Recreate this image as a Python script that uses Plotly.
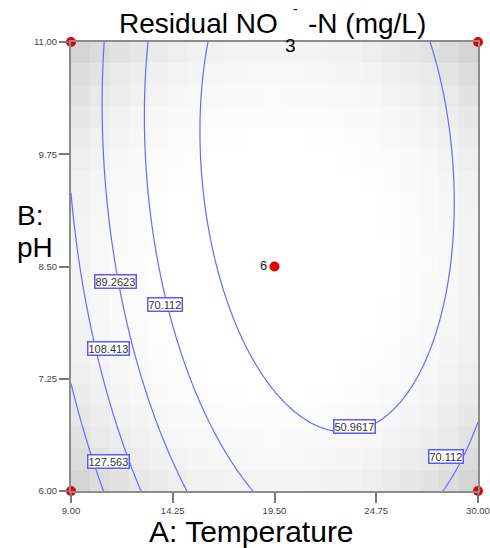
import numpy as np
import plotly.graph_objects as go

# ---- data ----
# Quadratic response-surface model in coded units: A=(T-19.5)/10.5, B=(pH-8.5)/2.5
coef_names = ["b0", "A", "B", "AB", "A2", "B2"]
coef_values = [39.46, -27.2, -13.38, 6.66, 46.9, 13.15]

temp_range = [9.0, 30.0]
ph_range = [6.0, 11.0]
x_ticks = [9.00, 14.25, 19.50, 24.75, 30.00]
y_ticks = [6.00, 7.25, 8.50, 9.75, 11.00]
contour_levels = [50.9617, 70.112, 89.2623, 108.413, 127.563]

design_T = [9.0, 30.0, 9.0, 30.0, 19.5]
design_pH = [6.0, 6.0, 11.0, 11.0, 8.5]
design_label = ["", "", "", "", "6"]

label_text = ["89.2623", "70.112", "108.413", "127.563", "50.9617", "70.112"]
label_T = [11.32, 13.85, 10.91, 10.91, 23.65, 28.35]
label_pH = [8.33, 8.08, 7.59, 6.33, 6.72, 6.38]

# ---- model evaluation ----
b0, bA, bB, bAB, bA2, bB2 = coef_values
def model(T, pH):
    A = (T - 19.5) / 10.5
    B = (pH - 8.5) / 2.5
    return b0 + bA*A + bB*B + bAB*A*B + bA2*A*A + bB2*B*B

xs = np.linspace(temp_range[0], temp_range[1], 161)
ys = np.linspace(ph_range[0], ph_range[1], 161)
XX, YY = np.meshgrid(xs, ys)
ZZ = model(XX, YY)

# blocky gray background shading (coarse cells)
nc = 21
cx = np.linspace(temp_range[0], temp_range[1], nc + 1)
cy = np.linspace(ph_range[0], ph_range[1], nc + 1)
ccx = (cx[:-1] + cx[1:]) / 2
ccy = (cy[:-1] + cy[1:]) / 2
CA, CB = np.meshgrid((ccx - 19.5) / 10.5, (ccy - 8.5) / 2.5)
shade = (CA**2 + CB**2) ** 2 / 4.0

fig = go.Figure()
fig.add_trace(go.Heatmap(
    x=ccx, y=ccy, z=shade, zmin=0, zmax=1, zsmooth=False,
    colorscale=[[0, "rgb(255,255,255)"], [1, "rgb(203,203,203)"]],
    showscale=False, hoverinfo="skip"))
fig.add_trace(go.Contour(
    x=xs, y=ys, z=ZZ,
    contours=dict(start=contour_levels[0], end=contour_levels[-1],
                  size=(contour_levels[-1] - contour_levels[0]) / (len(contour_levels) - 1),
                  coloring="none"),
    line=dict(color="rgb(105,105,255)", width=1.2),
    showscale=False, hoverinfo="skip"))
fig.add_trace(go.Scatter(
    x=design_T, y=design_pH, mode="markers+text",
    text=design_label, textposition="middle left",
    textfont=dict(family="Liberation Sans, Arial", size=13, color="#222"),
    marker=dict(color="rgb(230,0,0)", size=10),
    cliponaxis=False, hoverinfo="skip"))

for t, xv, yv in zip(label_text, label_T, label_pH):
    fig.add_annotation(x=xv, y=yv, text=t, showarrow=False,
                       font=dict(family="Liberation Sans Narrow, Liberation Sans, Arial", size=11, color="#333"),
                       bgcolor="white", bordercolor="rgb(90,90,255)", borderwidth=1.5, borderpad=0)

# title pieces
tfont = dict(family="Liberation Sans, Arial", size=28, color="black")
fig.add_annotation(xref="paper", yref="paper", x=(280-71)/407, y=(491-35)/449, xanchor="right", yanchor="bottom",
                   text="Residual NO", showarrow=False, font=tfont, yshift=-6)
fig.add_annotation(xref="paper", yref="paper", x=(283-71)/407, y=(491-45)/449, xanchor="left", yanchor="middle",
                   text="3", showarrow=False, font=dict(family="Liberation Sans, Arial", size=19, color="black"))
fig.add_annotation(xref="paper", yref="paper", x=(292-71)/407, y=491/449, xanchor="left", yanchor="top",
                   text="-", showarrow=False, font=dict(family="Liberation Sans, Arial", size=14, color="black"),
                   borderpad=0)
fig.add_annotation(xref="paper", yref="paper", x=(306-71)/407, y=(491-35)/449, xanchor="left", yanchor="bottom",
                   text="-N (mg/L)", showarrow=False, font=tfont, yshift=-6)
# axis titles
fig.add_annotation(xref="paper", yref="paper", x=(251-71)/407, y=(491-531)/449, xanchor="center", yanchor="middle",
                   text="A: Temperature", showarrow=False, font=dict(family="Liberation Sans, Arial", size=30, color="black"))
fig.add_annotation(xref="paper", yref="paper", x=(15-71)/407, y=(491-215)/449, xanchor="left", yanchor="middle",
                   text="B:", showarrow=False, font=tfont)
fig.add_annotation(xref="paper", yref="paper", x=(15-71)/407, y=(491-248)/449, xanchor="left", yanchor="middle",
                   text="pH", showarrow=False, font=tfont)

axis_common = dict(showline=True, mirror=True, linecolor="rgb(140,140,140)", linewidth=2,
                   ticks="outside", tickcolor="rgb(120,120,120)", tickwidth=1.5, ticklen=10,
                   showgrid=False, zeroline=False, automargin=False, ticklabeloverflow="allow",
                   tickfont=dict(family="Liberation Sans Narrow, Liberation Sans, Arial", size=9.5, color="#444"))
fig.update_xaxes(range=temp_range, tickvals=x_ticks, ticktext=[f"{v:.2f}" for v in x_ticks], **axis_common)
fig.update_yaxes(range=ph_range, tickvals=y_ticks, ticktext=[f"{v:.2f}" for v in y_ticks], **axis_common)

fig.update_layout(width=490, height=548, margin=dict(l=71, r=12, t=42, b=57, autoexpand=False),
                  paper_bgcolor="white", plot_bgcolor="white", showlegend=False)
fig.write_html("out.html", config={"displayModeBar": False},
               post_script="document.body.style.margin='0';document.body.style.overflow='hidden';")
